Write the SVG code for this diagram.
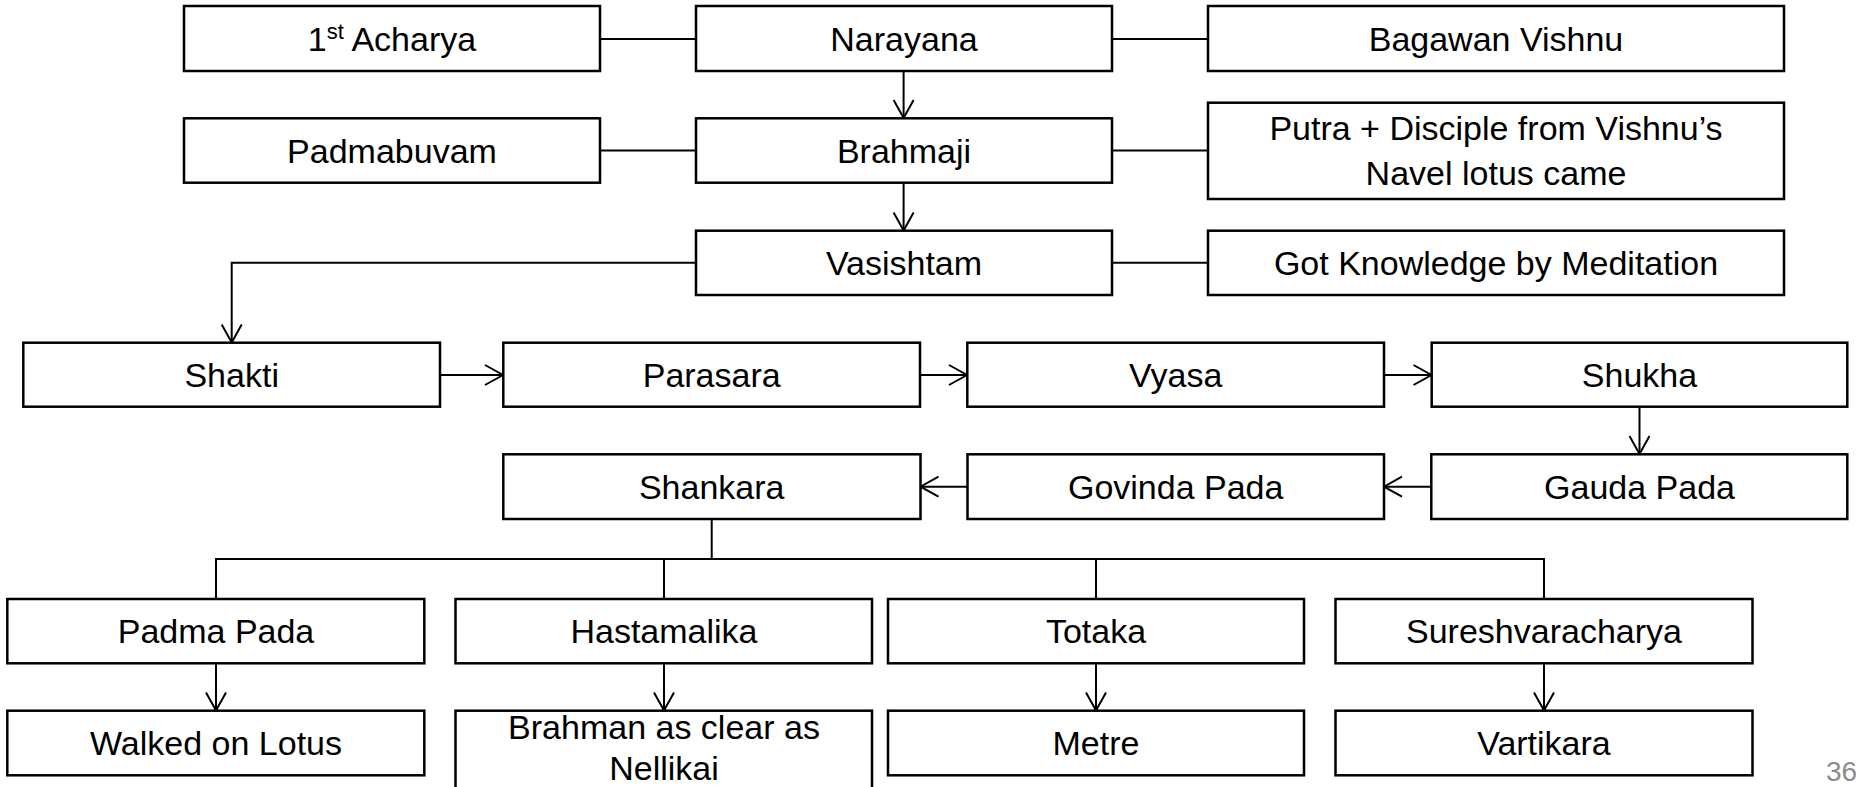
<svg xmlns="http://www.w3.org/2000/svg" width="1856" height="787" viewBox="0 0 1856 787">
<style>
.box{fill:#fff;stroke:#000;stroke-width:2.5}
.t{font-family:"Liberation Sans",Arial,sans-serif;font-size:34px;fill:#000;text-anchor:middle}
.c{fill:none;stroke:#000;stroke-width:2}
.a{marker-end:url(#arr)}
.pg{font-family:"Liberation Sans",Arial,sans-serif;font-size:28px;fill:#8c8c8c}
</style>
<defs>
<marker id="arr" markerUnits="userSpaceOnUse" markerWidth="22" markerHeight="24" refX="19" refY="11" orient="auto" viewBox="0 0 22 24">
<path d="M1,1 L19,11 L1,21" fill="none" stroke="#000" stroke-width="2"/>
</marker>
</defs>
<rect width="1856" height="787" fill="#fff"/>
<g id="connectors">
<line class="c" x1="600" y1="39" x2="696" y2="39"/>
<line class="c" x1="1112" y1="39" x2="1208" y2="39"/>
<line class="c a" x1="903.6" y1="71" x2="903.6" y2="118"/>
<line class="c" x1="600" y1="150.5" x2="696" y2="150.5"/>
<line class="c" x1="1112" y1="150.5" x2="1208" y2="150.5"/>
<line class="c a" x1="903.6" y1="183" x2="903.6" y2="230.5"/>
<line class="c" x1="1112" y1="262.7" x2="1208" y2="262.7"/>
<polyline class="c a" points="696,262.7 231.7,262.7 231.7,342.5"/>
<line class="c a" x1="440" y1="375" x2="503" y2="375"/>
<line class="c a" x1="920" y1="375" x2="967" y2="375"/>
<line class="c a" x1="1384" y1="375" x2="1431.5" y2="375"/>
<line class="c a" x1="1639.5" y1="407" x2="1639.5" y2="454"/>
<line class="c a" x1="1431.3" y1="486.7" x2="1384" y2="486.7"/>
<line class="c a" x1="967.5" y1="486.7" x2="920.5" y2="486.7"/>
<line class="c" x1="711.7" y1="519" x2="711.7" y2="559"/>
<polyline class="c" points="216,599 216,559 1544,559 1544,599"/>
<line class="c" x1="664" y1="559" x2="664" y2="599"/>
<line class="c" x1="1096" y1="559" x2="1096" y2="599"/>
<line class="c a" x1="216" y1="663.3" x2="216" y2="710.5"/>
<line class="c a" x1="664" y1="663.3" x2="664" y2="710.5"/>
<line class="c a" x1="1096" y1="663.3" x2="1096" y2="710.5"/>
<line class="c a" x1="1544" y1="663.3" x2="1544" y2="710.5"/>
</g>
<g id="n-acharya"><rect class="box" x="184" y="6" width="416" height="65"/><text class="t" x="392" y="50.5">1<tspan font-size="22" dy="-12">st</tspan><tspan dy="12"> Acharya</tspan></text></g>
<g id="n-narayana"><rect class="box" x="696" y="6" width="416" height="65"/><text class="t" x="904" y="50.5">Narayana</text></g>
<g id="n-vishnu"><rect class="box" x="1208" y="6" width="576" height="65"/><text class="t" x="1496" y="50.5">Bagawan Vishnu</text></g>
<g id="n-padmabuvam"><rect class="box" x="184" y="118.3" width="416" height="64.4"/><text class="t" x="392" y="162.5">Padmabuvam</text></g>
<g id="n-brahmaji"><rect class="box" x="696" y="118.3" width="416" height="64.4"/><text class="t" x="904" y="162.5">Brahmaji</text></g>
<g id="n-putra"><rect class="box" x="1208" y="102.7" width="576" height="96.3"/><text class="t" x="1496" y="140">Putra + Disciple from Vishnu’s</text><text class="t" x="1496" y="185">Navel lotus came</text></g>
<g id="n-vasishtam"><rect class="box" x="696" y="230.7" width="416" height="64.3"/><text class="t" x="904" y="275">Vasishtam</text></g>
<g id="n-knowledge"><rect class="box" x="1208" y="230.7" width="576" height="64.3"/><text class="t" x="1496" y="275">Got Knowledge by Meditation</text></g>
<g id="n-shakti"><rect class="box" x="23.3" y="342.7" width="416.7" height="64"/><text class="t" x="231.7" y="387">Shakti</text></g>
<g id="n-parasara"><rect class="box" x="503.3" y="342.7" width="416.7" height="64"/><text class="t" x="711.7" y="387">Parasara</text></g>
<g id="n-vyasa"><rect class="box" x="967.3" y="342.7" width="416.7" height="64"/><text class="t" x="1175.7" y="387">Vyasa</text></g>
<g id="n-shukha"><rect class="box" x="1431.7" y="342.7" width="415.6" height="64"/><text class="t" x="1639.5" y="387">Shukha</text></g>
<g id="n-shankara"><rect class="box" x="503.3" y="454.3" width="417.2" height="64.7"/><text class="t" x="711.7" y="498.7">Shankara</text></g>
<g id="n-govinda"><rect class="box" x="967.5" y="454.3" width="416.5" height="64.7"/><text class="t" x="1175.7" y="498.7">Govinda Pada</text></g>
<g id="n-gauda"><rect class="box" x="1431.3" y="454.3" width="416" height="64.7"/><text class="t" x="1639.5" y="498.7">Gauda Pada</text></g>
<g id="n-padmapada"><rect class="box" x="7.3" y="599" width="417" height="64.3"/><text class="t" x="216" y="643">Padma Pada</text></g>
<g id="n-hastamalika"><rect class="box" x="455.5" y="599" width="416.5" height="64.3"/><text class="t" x="664" y="643">Hastamalika</text></g>
<g id="n-totaka"><rect class="box" x="888" y="599" width="416" height="64.3"/><text class="t" x="1096" y="643">Totaka</text></g>
<g id="n-suresh"><rect class="box" x="1335.5" y="599" width="417" height="64.3"/><text class="t" x="1544" y="643">Sureshvaracharya</text></g>
<g id="n-lotus"><rect class="box" x="7.3" y="710.7" width="417" height="64.6"/><text class="t" x="216" y="755">Walked on Lotus</text></g>
<g id="n-nellikai"><rect class="box" x="455.5" y="710.7" width="416.5" height="100"/><text class="t" x="664" y="739">Brahman as clear as</text><text class="t" x="664" y="780">Nellikai</text></g>
<g id="n-metre"><rect class="box" x="888" y="710.7" width="416" height="64.6"/><text class="t" x="1096" y="755">Metre</text></g>
<g id="n-vartikara"><rect class="box" x="1335.5" y="710.7" width="417" height="64.6"/><text class="t" x="1544" y="755">Vartikara</text></g>
<text class="pg" x="1826" y="781">36</text>
</svg>
